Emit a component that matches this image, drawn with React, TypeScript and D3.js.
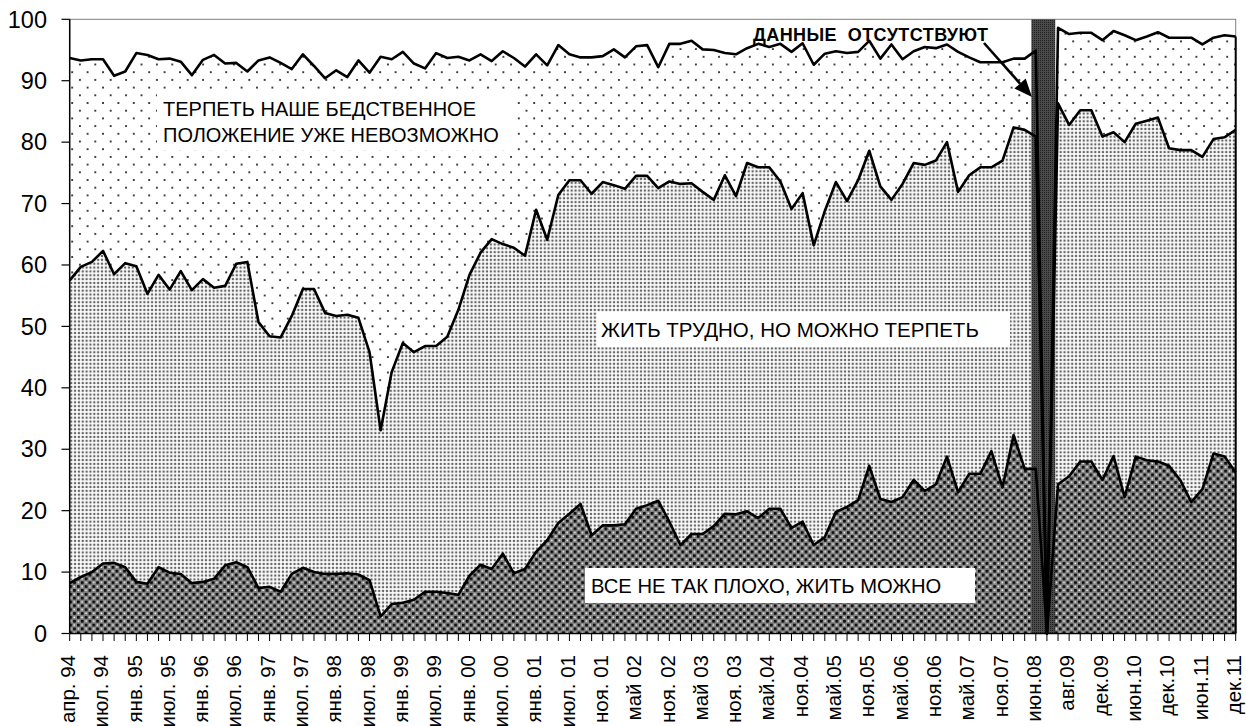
import React from 'react';
import * as d3 from 'd3';

// Category tick labels (every 3rd survey point is labelled)
const tickLabels: string[] = [
  'апр. 94', 'июл. 94', 'янв. 95', 'июл. 95', 'янв. 96', 'июл. 96', 'янв. 97', 'июл. 97',
  'янв. 98', 'июл. 98', 'янв. 99', 'июл. 99', 'янв. 00', 'июл. 00', 'янв. 01', 'июл. 01',
  'ноя. 01', 'май 02', 'ноя. 02', 'май 03', 'ноя. 03', 'май.04', 'ноя.04', 'май.05',
  'ноя.05', 'май.06', 'ноя.06', 'май.07', 'ноя.07', 'июн.08', 'авг.09', 'дек.09',
  'июн.10', 'дек.10', 'июн.11', 'дек.11',
];
const labelEvery = 3;

const yTicks: number[] = [0, 10, 20, 30, 40, 50, 60, 70, 80, 90, 100];

// Cumulative levels (stacked), one value per survey point
// "ВСЕ НЕ ТАК ПЛОХО, ЖИТЬ МОЖНО"
const levelGood: number[] = [
  8.2, 9.2, 10.0, 11.4, 11.5, 10.8, 8.4, 8.1, 10.8, 9.9,
  9.7, 8.2, 8.4, 8.9, 11.1, 11.6, 10.8, 7.4, 7.6, 6.8,
  9.7, 10.7, 10.0, 9.7, 9.7, 9.8, 9.6, 8.7, 2.8, 4.8,
  5.0, 5.5, 6.8, 6.8, 6.6, 6.3, 9.4, 11.2, 10.5, 13.0,
  9.8, 10.5, 13.3, 15.2, 18.0, 19.5, 21.1, 16.0, 17.6, 17.6,
  17.8, 20.3, 20.9, 21.6, 18.2, 14.4, 16.2, 16.2, 17.5, 19.5,
  19.4, 19.9, 18.8, 20.3, 20.3, 17.2, 18.2, 14.4, 15.7, 19.8,
  20.6, 21.7, 27.3, 21.9, 21.4, 22.2, 25.0, 23.2, 24.3, 28.8,
  23.0, 26.0, 26.0, 29.7, 23.8, 32.3, 26.8, 26.8, 0, 24.3,
  25.6, 28.0, 28.0, 25.0, 28.9, 22.2, 28.8, 28.2, 28.0, 27.3,
  25.0, 21.4, 23.5, 29.3, 28.8, 26.2,
];
// + "ЖИТЬ ТРУДНО, НО МОЖНО ТЕРПЕТЬ"
const levelHard: number[] = [
  57.5, 59.7, 60.5, 62.3, 58.5, 60.3, 59.8, 55.3, 58.4, 56.0,
  59.0, 55.9, 57.7, 56.3, 56.6, 60.2, 60.5, 50.7, 48.4, 48.2,
  51.7, 56.1, 56.1, 52.2, 51.7, 51.9, 51.4, 45.8, 33.1, 42.6,
  47.3, 45.8, 46.8, 46.8, 48.3, 52.7, 58.4, 62.0, 64.2, 63.4,
  62.8, 61.5, 69.0, 64.1, 71.4, 73.8, 73.8, 71.6, 73.5, 73.0,
  72.4, 74.5, 74.5, 72.5, 73.6, 73.2, 73.3, 71.9, 70.6, 74.6,
  71.2, 76.6, 75.9, 75.9, 73.6, 69.1, 71.7, 63.2, 68.8, 73.5,
  70.4, 73.8, 78.6, 72.8, 70.6, 73.2, 76.6, 76.3, 77.0, 80.0,
  71.9, 74.6, 75.9, 75.9, 77.0, 82.4, 82.0, 80.9, 0, 86.3,
  82.8, 85.2, 85.2, 80.9, 81.6, 80.0, 83.0, 83.5, 84.0, 79.0,
  78.7, 78.7, 77.6, 80.5, 80.8, 82.0,
];
// + "ТЕРПЕТЬ НАШЕ БЕДСТВЕННОЕ ПОЛОЖЕНИЕ УЖЕ НЕВОЗМОЖНО"
const levelUnbearable: number[] = [
  93.7, 93.3, 93.5, 93.5, 90.8, 91.5, 94.5, 94.2, 93.5, 93.6,
  93.1, 90.9, 93.4, 94.2, 92.8, 92.9, 91.5, 93.3, 93.8, 92.9,
  91.9, 94.3, 92.4, 90.4, 91.7, 90.6, 93.3, 91.3, 93.9, 93.5,
  94.7, 92.8, 92.0, 94.5, 93.7, 93.9, 93.3, 94.3, 93.2, 94.8,
  93.7, 92.3, 94.3, 92.5, 95.8, 94.3, 93.8, 93.8, 94.0, 95.1,
  93.8, 95.6, 95.8, 92.2, 96.0, 96.0, 96.5, 95.1, 95.0, 94.5,
  94.3, 95.3, 96.0, 95.5, 96.0, 94.7, 96.1, 92.6, 94.4, 94.8,
  94.5, 94.7, 96.5, 93.6, 95.9, 93.5, 94.8, 95.5, 95.3, 95.9,
  94.7, 93.8, 93.0, 93.0, 93.0, 93.6, 93.6, 94.9, 0, 98.6,
  97.6, 97.8, 97.8, 96.6, 98.1, 97.4, 96.6, 97.2, 97.9, 97.0,
  97.0, 97.0, 95.9, 97.0, 97.4, 97.2,
];

// Missing-data band, in category-index units
const gapBand: [number, number] = [86.6, 88.75];

const FONT = '"Liberation Sans", Arial, sans-serif';

export default function App() {
  const W = 1246;
  const H = 726;
  const n = levelGood.length;
  const x = d3.scaleLinear().domain([0, n - 1]).range([69.7, 1235.7]);
  const y = d3.scaleLinear().domain([0, 100]).range([633.5, 19.3]);

  const zero = levelGood.map(() => 0);
  const areaBetween = (lo: number[], hi: number[]) =>
    d3
      .area<number>()
      .x((_, i) => x(i))
      .y0((_, i) => y(lo[i]))
      .y1((d) => y(d))(hi) || '';
  const line = d3
    .line<number>()
    .x((_, i) => x(i))
    .y((d) => y(d));

  const xTickIdx = d3.range(n);

  // arrow geometry
  const a0 = [984, 43];
  const a1 = [1032, 97];
  const len = Math.hypot(a1[0] - a0[0], a1[1] - a0[1]);
  const ux = (a1[0] - a0[0]) / len;
  const uy = (a1[1] - a0[1]) / len;
  const hl = 18;
  const hw = 7.5;
  const bx = a1[0] - ux * hl;
  const by = a1[1] - uy * hl;
  const head = `${a1[0]},${a1[1]} ${bx - uy * hw},${by + ux * hw} ${bx + uy * hw},${by - ux * hw}`;

  return (
    <svg
      width={W}
      height={H}
      style={{ position: 'absolute', left: 0, top: 0, background: '#fff' }}
      fontFamily={FONT}
    >
      <defs>
        <pattern id="pSparse" width={15.4} height={15.4} patternUnits="userSpaceOnUse">
          <rect width={15.4} height={15.4} fill="#fff" />
          <rect x={2} y={2} width={1.8} height={1.8} fill="#222" />
          <rect x={9.7} y={9.7} width={1.8} height={1.8} fill="#222" />
        </pattern>
        <pattern id="pDots" width={3.85} height={3.85} patternUnits="userSpaceOnUse">
          <rect width={3.85} height={3.85} fill="#fff" />
          <rect x={0.8} y={0.8} width={2.2} height={2.2} fill="#666" />
        </pattern>
        <pattern id="pDark" width={7.7} height={7.7} patternUnits="userSpaceOnUse">
          <rect width={7.7} height={7.7} fill="#808080" />
          <rect x={0} y={0} width={2.7} height={2.7} fill="#0a0a0a" />
          <rect x={3.85} y={3.85} width={2.7} height={2.7} fill="#0a0a0a" />
          <rect x={4.3} y={0.6} width={1.5} height={1.5} fill="#fff" />
          <rect x={0.6} y={4.3} width={1.5} height={1.5} fill="#fff" />
        </pattern>
        <pattern id="pBand" width={2} height={2} patternUnits="userSpaceOnUse">
          <rect width={2} height={2} fill="#4a4a4a" />
          <rect x={0} y={0} width={1} height={1} fill="#222" />
        </pattern>
      </defs>

      {/* plot area border */}
      <rect x={69.7} y={19.3} width={1166} height={614.2} fill="#fff" stroke="#808080" strokeWidth={1} />

      {/* stacked areas */}
      <path d={areaBetween(levelHard, levelUnbearable)} fill="url(#pSparse)" />
      <path d={areaBetween(levelGood, levelHard)} fill="url(#pDots)" />
      <path d={areaBetween(zero, levelGood)} fill="url(#pDark)" />

      {/* missing data band */}
      <rect
        x={x(gapBand[0])}
        y={y(100)}
        width={x(gapBand[1]) - x(gapBand[0])}
        height={y(0) - y(100)}
        fill="url(#pBand)"
      />

      {/* series lines */}
      {[levelGood, levelHard, levelUnbearable].map((s, k) => (
        <path key={k} d={line(s) || ''} fill="none" stroke="#000" strokeWidth={2.6} strokeLinejoin="round" />
      ))}
      <line x1={x(n - 1)} x2={x(n - 1)} y1={y(0)} y2={y(levelUnbearable[n - 1])} stroke="#000" strokeWidth={2} />

      {/* axes */}
      <line x1={69.7} x2={69.7} y1={y(100)} y2={y(0)} stroke="#000" strokeWidth={1.5} />
      <line x1={69.7} x2={x(n - 1)} y1={y(0)} y2={y(0)} stroke="#000" strokeWidth={1.5} />
      {yTicks.map((t) => (
        <g key={t}>
          <line x1={61.5} x2={69.7} y1={y(t)} y2={y(t)} stroke="#000" strokeWidth={1.2} />
          <text x={47} y={y(t)} dy="0.35em" textAnchor="end" fontSize={23.5} fill="#000">
            {t}
          </text>
        </g>
      ))}
      {xTickIdx.map((i) => (
        <line key={i} x1={x(i)} x2={x(i)} y1={y(0)} y2={y(0) + 7.5} stroke="#000" strokeWidth={1} />
      ))}
      {tickLabels.map((lab, k) => {
        const tx = x(k * labelEvery) - 2;
        const ty = 655;
        return (
          <text
            key={k}
            transform={`translate(${tx},${ty}) rotate(-90)`}
            dy="0.35em"
            textAnchor="end"
            fontSize={20.5}
            fill="#000"
          >
            {lab}
          </text>
        );
      })}

      {/* annotations */}
      <rect x={157} y={94} width={356} height={56} fill="#fff" />
      <text x={163} y={116} fontSize={20} fill="#000">ТЕРПЕТЬ НАШЕ БЕДСТВЕННОЕ</text>
      <text x={163} y={141.7} fontSize={20} fill="#000">ПОЛОЖЕНИЕ УЖЕ НЕВОЗМОЖНО</text>

      <rect x={597} y={312} width={413} height={35} fill="#fff" />
      <text x={601} y={337} fontSize={20.5} fill="#000">ЖИТЬ ТРУДНО, НО МОЖНО ТЕРПЕТЬ</text>

      <rect x={585} y={568} width={390} height={35} fill="#fff" />
      <text x={591} y={593} fontSize={20.2} fill="#000">ВСЕ НЕ ТАК ПЛОХО, ЖИТЬ МОЖНО</text>

      <text
        x={753}
        y={41}
        fontSize={18}
        fontWeight="bold"
        fill="#000"
        textLength={235}
        lengthAdjust="spacing"
        style={{ whiteSpace: 'pre' }}
      >
        {'ДАННЫЕ  ОТСУТСТВУЮТ'}
      </text>
      <line x1={a0[0]} y1={a0[1]} x2={bx} y2={by} stroke="#000" strokeWidth={2.6} />
      <polygon points={head} fill="#000" />
    </svg>
  );
}
